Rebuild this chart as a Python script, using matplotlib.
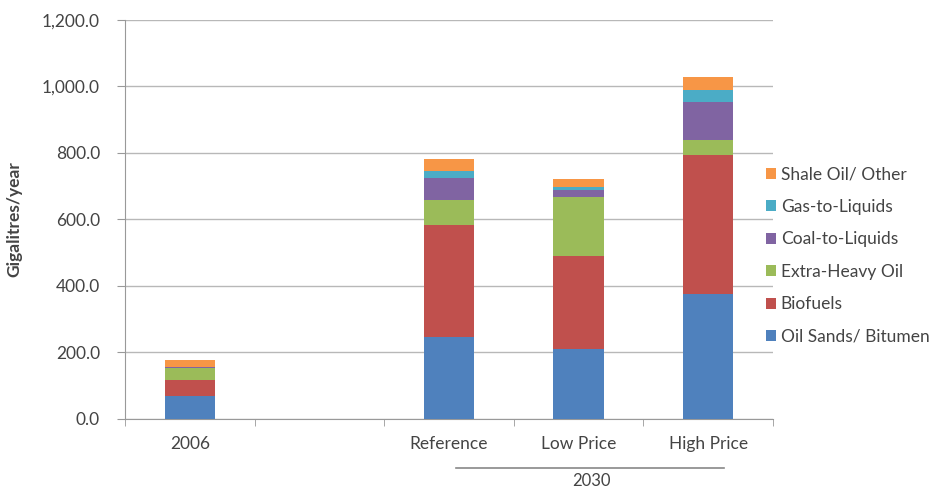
import matplotlib
matplotlib.use("Agg")
import matplotlib.pyplot as plt
import numpy as np

plt.rcParams['font.family'] = ['Lato', 'DejaVu Sans']

categories = ["2006", "", "Reference", "Low Price", "High Price"]
series_names = ["Oil Sands/ Bitumen", "Biofuels", "Extra-Heavy Oil",
                "Coal-to-Liquids", "Gas-to-Liquids", "Shale Oil/ Other"]
oil_sands = [70, np.nan, 246, 210, 376]
biofuels = [47, np.nan, 338, 279, 417]
extra_heavy = [35, np.nan, 75, 180, 45]
coal_to_liquids = [3, np.nan, 67, 20, 115]
gas_to_liquids = [2, np.nan, 20, 8, 36]
shale_other = [20, np.nan, 35, 24, 40]
colors = ["#4F81BD", "#C0504D", "#9BBB59", "#8064A2", "#4BACC6", "#F79646"]
yticks = [0, 200, 400, 600, 800, 1000, 1200]
group_label = "2030"

series = [oil_sands, biofuels, extra_heavy, coal_to_liquids, gas_to_liquids, shale_other]

fig = plt.figure(figsize=(9.38, 4.9), dpi=100)
ax = fig.add_axes([0.1333, 0.1449, 0.6908, 0.8143])

x = np.arange(len(categories))
bottom = np.zeros(len(categories))
handles = []
for vals, c, name in zip(series, colors, series_names):
    v = np.nan_to_num(np.array(vals, dtype=float))
    h = ax.bar(x, v, width=0.39, bottom=bottom, color=c, label=name, zorder=3)
    handles.append(h)
    bottom += v

ax.set_xlim(-0.5, len(categories) - 0.5)
ax.set_ylim(0, 1200)
ax.set_yticks(yticks)
ax.set_yticklabels([f"{t:,.1f}" for t in yticks])
ax.yaxis.grid(True, color="#b8b8b8", linewidth=1.0, zorder=0)
ax.set_axisbelow(True)

ax.set_xticks(x)
ax.set_xticklabels(categories)
ax.set_xticks(np.arange(-0.5, len(categories)), minor=True)
ax.tick_params(axis='x', which='major', length=0, pad=12, labelsize=12.5, labelcolor="#444444")
ax.tick_params(axis='x', which='minor', length=5, color="#999999", direction='out')
ax.tick_params(axis='y', length=6, color="#999999", labelsize=12.5, labelcolor="#444444", pad=12)

for s in ["top", "right"]:
    ax.spines[s].set_visible(False)
ax.spines["left"].set_color("#999999")
ax.spines["bottom"].set_color("#999999")

ax.set_ylabel("Gigalitres/year", fontsize=12.5, fontweight='bold', color="#444444", labelpad=14)

# group label line for 2030
trans = ax.get_xaxis_transform()
ax.plot([2.05, 4.12], [-0.123, -0.123], transform=trans, color="#888888", lw=1.2, clip_on=False)
ax.text(3.1, -0.155, group_label, transform=trans, ha='center', va='center', fontsize=12, color="#444444")

leg = ax.legend(handles[::-1], series_names[::-1], loc='center left', bbox_to_anchor=(0.965, 0.41),
                frameon=False, fontsize=12.5, handlelength=0.6, handleheight=0.6, handletextpad=0.25,
                labelspacing=0.95, labelcolor="#444444")

fig.savefig("out.png", dpi=100)
